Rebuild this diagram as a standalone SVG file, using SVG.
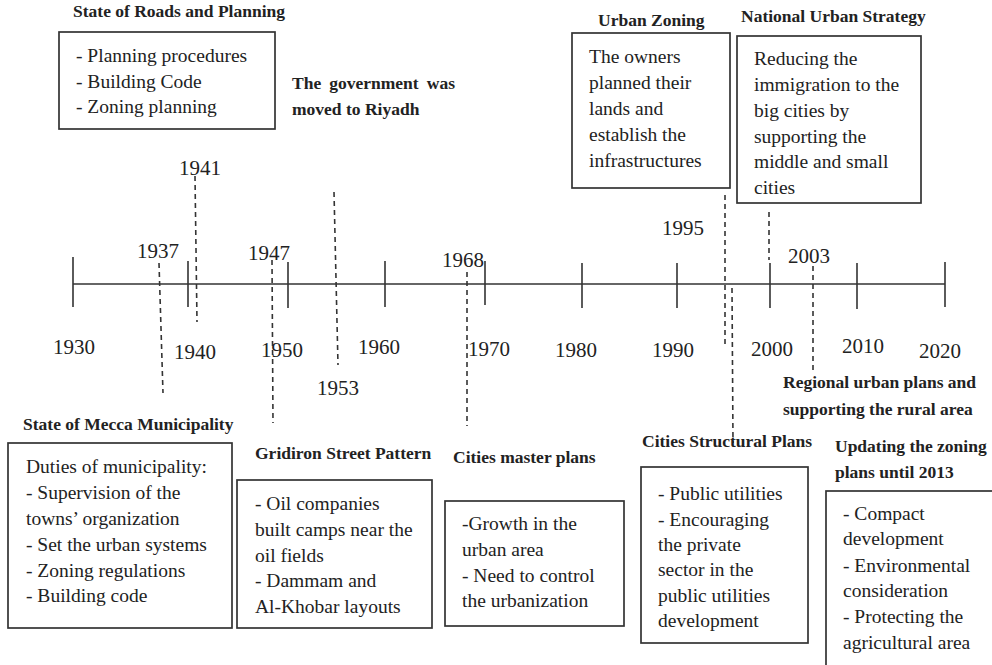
<svg xmlns="http://www.w3.org/2000/svg" width="992" height="665" viewBox="0 0 992 665">
  <style>
    text { font-family: "Liberation Serif", "Times New Roman", serif; fill: #222; }
    .title { font-size: 17.5px; font-weight: bold; }
    .body { font-size: 19.5px; }
    .year { font-size: 21px; text-anchor: middle; }
    .box { fill: #fff; stroke: #333; stroke-width: 1.7; }
    .axis { stroke: #333; stroke-width: 1.6; fill: none; }
    .tick { stroke: #333; stroke-width: 1.6; }
    .dash { stroke: #333; stroke-width: 1.6; stroke-dasharray: 5 4; fill: none; }
  </style>
  <rect width="992" height="665" fill="#fff"/>

  <!-- timeline axis with decade ticks -->
  <g id="timeline">
    <line class="axis" x1="73" y1="284" x2="945" y2="284"/>
    <line class="tick" x1="73" y1="257" x2="73" y2="307"/>
    <line class="tick" x1="188" y1="261" x2="188" y2="307"/>
    <line class="tick" x1="288" y1="262" x2="288" y2="308"/>
    <line class="tick" x1="385" y1="261" x2="385" y2="307"/>
    <line class="tick" x1="485" y1="261" x2="485" y2="305" stroke-width="3.5"/>
    <line class="tick" x1="582" y1="263" x2="582" y2="308"/>
    <line class="tick" x1="677" y1="263" x2="677" y2="308"/>
    <line class="tick" x1="770" y1="263" x2="770" y2="308"/>
    <line class="tick" x1="857" y1="263" x2="857" y2="309"/>
    <line class="tick" x1="945" y1="262" x2="945" y2="307"/>
    <text class="year" x="74" y="354">1930</text>
    <text class="year" x="195" y="359">1940</text>
    <text class="year" x="282" y="357">1950</text>
    <text class="year" x="379" y="354">1960</text>
    <text class="year" x="489" y="356">1970</text>
    <text class="year" x="576" y="357">1980</text>
    <text class="year" x="673" y="357">1990</text>
    <text class="year" x="772" y="356">2000</text>
    <text class="year" x="863" y="353">2010</text>
    <text class="year" x="940" y="358">2020</text>
  </g>

  <!-- dashed event markers and their years -->
  <g id="connectors">
    <line class="dash" x1="159" y1="263" x2="163" y2="393"/>
    <line class="dash" x1="195" y1="176" x2="197" y2="322"/>
    <line class="dash" x1="272" y1="260" x2="273" y2="423"/>
    <line class="dash" x1="334" y1="192" x2="338" y2="365"/>
    <line class="dash" x1="467" y1="272" x2="467" y2="426"/>
    <line class="dash" x1="725" y1="195" x2="725" y2="348"/>
    <line class="dash" x1="732" y1="288" x2="733" y2="443"/>
    <line class="dash" x1="769" y1="212" x2="769" y2="260"/>
    <line class="dash" x1="813" y1="266" x2="813" y2="372"/>
  </g>
  <g id="event-years">
    <text class="year" x="158" y="258">1937</text>
    <text class="year" x="200" y="175">1941</text>
    <text class="year" x="269" y="260">1947</text>
    <text class="year" x="338" y="395">1953</text>
    <text class="year" x="463" y="267">1968</text>
    <text class="year" x="683" y="235">1995</text>
    <text class="year" x="809" y="263">2003</text>
  </g>

  <!-- 1941 -->
  <g id="roads-planning">
    <text class="title" x="73" y="17">State of Roads and Planning</text>
    <rect class="box" x="59" y="32" width="216" height="97"/>
    <text class="body" x="76" y="62">- Planning procedures</text>
    <text class="body" x="76" y="88">- Building Code</text>
    <text class="body" x="76" y="113">- Zoning planning</text>
  </g>

  <!-- 1953 -->
  <g id="government-riyadh">
    <text class="title" x="292" y="89" word-spacing="3.7">The government was</text>
    <text class="title" x="292" y="115">moved to Riyadh</text>
  </g>

  <!-- 1995 -->
  <g id="urban-zoning">
    <text class="title" x="598" y="26">Urban Zoning</text>
    <rect class="box" x="572" y="33" width="158" height="155"/>
    <text class="body" x="589" y="63">The owners</text>
    <text class="body" x="589" y="89">planned their</text>
    <text class="body" x="589" y="115">lands and</text>
    <text class="body" x="589" y="141">establish the</text>
    <text class="body" x="589" y="167">infrastructures</text>
  </g>

  <!-- 2000 -->
  <g id="national-strategy">
    <text class="title" x="741" y="22">National Urban Strategy</text>
    <rect class="box" x="737" y="36" width="184" height="167"/>
    <text class="body" x="754" y="65">Reducing the</text>
    <text class="body" x="754" y="91">immigration to the</text>
    <text class="body" x="754" y="117">big cities by</text>
    <text class="body" x="754" y="143">supporting the</text>
    <text class="body" x="754" y="168">middle and small</text>
    <text class="body" x="754" y="194">cities</text>
  </g>

  <!-- 1937 -->
  <g id="mecca-municipality">
    <text class="title" x="23" y="430">State of Mecca Municipality</text>
    <rect class="box" x="8" y="443" width="224" height="185"/>
    <text class="body" x="26" y="473">Duties of municipality:</text>
    <text class="body" x="26" y="499">- Supervision of the</text>
    <text class="body" x="26" y="525">towns’ organization</text>
    <text class="body" x="26" y="551">- Set the urban systems</text>
    <text class="body" x="26" y="577">- Zoning regulations</text>
    <text class="body" x="26" y="602">- Building code</text>
  </g>

  <!-- 1947 -->
  <g id="gridiron">
    <text class="title" x="255" y="459">Gridiron Street Pattern</text>
    <rect class="box" x="237" y="480" width="195" height="148"/>
    <text class="body" x="255" y="510">- Oil companies</text>
    <text class="body" x="255" y="536">built camps near the</text>
    <text class="body" x="255" y="562">oil fields</text>
    <text class="body" x="255" y="587">- Dammam and</text>
    <text class="body" x="255" y="613">Al-Khobar layouts</text>
  </g>

  <!-- 1968 -->
  <g id="master-plans">
    <text class="title" x="453" y="463">Cities master plans</text>
    <rect class="box" x="445" y="501" width="179" height="125"/>
    <text class="body" x="462" y="530">-Growth in the</text>
    <text class="body" x="462" y="556">urban area</text>
    <text class="body" x="462" y="582">- Need to control</text>
    <text class="body" x="462" y="607">the urbanization</text>
  </g>

  <!-- 1995 -->
  <g id="structural-plans">
    <text class="title" x="642" y="447">Cities Structural Plans</text>
    <rect class="box" x="641" y="467" width="167" height="176"/>
    <text class="body" x="658" y="500">- Public utilities</text>
    <text class="body" x="658" y="526">- Encouraging</text>
    <text class="body" x="658" y="551">the private</text>
    <text class="body" x="658" y="576">sector in the</text>
    <text class="body" x="658" y="602">public utilities</text>
    <text class="body" x="658" y="627">development</text>
  </g>

  <!-- 2003 -->
  <g id="regional-plans">
    <text class="title" x="783" y="388">Regional urban plans and</text>
    <text class="title" x="783" y="415">supporting the rural area</text>
  </g>

  <g id="zoning-update">
    <text class="title" x="835" y="452">Updating the zoning</text>
    <text class="title" x="835" y="478">plans until 2013</text>
    <rect class="box" x="826" y="491" width="170" height="180"/>
    <text class="body" x="843" y="520">- Compact</text>
    <text class="body" x="843" y="545">development</text>
    <text class="body" x="843" y="572">- Environmental</text>
    <text class="body" x="843" y="597">consideration</text>
    <text class="body" x="843" y="623">- Protecting the</text>
    <text class="body" x="843" y="649">agricultural area</text>
  </g>
</svg>
